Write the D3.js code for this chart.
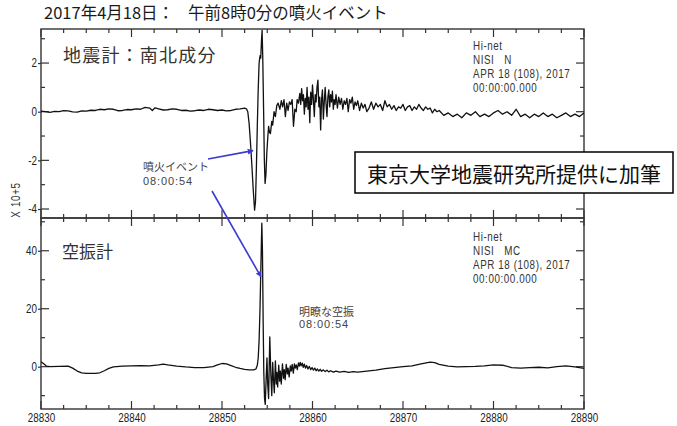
<!DOCTYPE html>
<html>
<head>
<meta charset="utf-8">
<script src="https://cdn.jsdelivr.net/npm/d3@7"></script>
<style>
  html, body { margin: 0; padding: 0; background: #fff; }
  svg { display: block; }
</style>
</head>
<body>
<svg id="chart" width="677" height="426"></svg>
<script>
// Time axis (seconds of day) and tick layout
const timeDomain = [28830, 28890];
const timeMajorTicks = [28830, 28840, 28850, 28860, 28870, 28880, 28890];
const timeMinorTicks = [28832.5, 28835, 28837.5, 28842.5, 28845, 28847.5, 28852.5, 28855, 28857.5,
  28862.5, 28865, 28867.5, 28872.5, 28875, 28877.5, 28882.5, 28885, 28887.5];

// Seismometer (N-S component, x 10^5)
const seisDomain = [-4.37, 3.4];
const seisMajorTicks = [-4, -2, 0, 2];
const seisMinorTicks = [-3, -1, 1, 3];

// Infrasound (microbarometer)
const infraDomain = [-14.6, 51.3];
const infraMajorTicks = [0, 20, 40];
const infraMinorTicks = [-10, 10, 30, 50];

// Seismometer trace: [time, value]
const seisBefore = [
  [28830,0.02],[28830.5,0.0],[28831,-0.03],[28831.5,0.01],[28832,0.0],[28832.5,0.04],[28833,0.03],
  [28833.5,-0.01],[28834,-0.02],[28834.5,0.03],[28835,0.02],[28835.5,0.06],[28836,0.05],[28836.5,0.1],
  [28837,0.08],[28837.5,0.12],[28838,0.1],[28838.5,0.04],[28839,0.05],[28839.5,0.09],[28840,0.08],
  [28840.5,0.12],[28841,0.1],[28841.5,0.18],[28842,0.15],[28842.3,0.05],[28842.6,0.16],[28843,0.12],
  [28843.5,0.07],[28844,0.08],[28844.5,0.12],[28845,0.1],[28845.5,0.05],[28846,0.06],[28846.5,0.02],
  [28847,0.04],[28847.5,0.07],[28848,0.05],[28848.5,0.1],[28849,0.08],[28849.5,0.05],[28850,0.07],
  [28850.5,0.03],[28851,0.05],[28851.5,0.1],[28852,0.12],[28852.5,0.15]
];
const seisEvent = [
  [28852.7,0.12],[28852.85,0.0],[28853.0,-0.5],[28853.15,-1.3],[28853.3,-2.2],[28853.45,-3.2],
  [28853.6,-4.05],[28853.7,-3.7],[28853.8,-2.3],[28853.9,-0.6],[28854.0,0.9],[28854.1,2.0],
  [28854.2,2.3],[28854.28,2.2],[28854.36,2.9],[28854.43,3.35],[28854.5,2.3],[28854.6,0.0],
  [28854.68,-2.0],[28854.76,-2.95],[28854.85,-2.6],[28854.95,-1.7],[28855.05,-1.1],[28855.15,-0.6],
  [28855.25,-0.85],[28855.35,-0.9],[28855.5,-0.4],[28855.6,-0.55],[28855.75,0.0],[28855.9,-0.2],
  [28856.05,0.25],[28856.2,0.35],[28856.4,0.1],[28856.55,0.45],[28856.7,0.2],[28856.85,0.5],
  [28857.0,-0.2],[28857.15,0.35],[28857.3,0.05],[28857.45,0.4],[28857.6,0.3],[28857.75,0.5],
  [28857.9,-0.6],[28858.05,0.1],[28858.2,0.0],[28858.3,0.5],[28858.45,0.35],[28858.6,0.75],
  [28858.7,0.3],[28858.8,0.95],[28858.9,0.45],[28859.0,0.7],[28859.1,-0.1],[28859.2,0.55],
  [28859.3,0.2],[28859.4,1.0],[28859.5,0.1],[28859.6,0.6],[28859.7,-0.45],[28859.8,0.8],
  [28859.9,0.3],[28860.0,1.1],[28860.1,0.5],[28860.2,-0.2],[28860.3,0.7],[28860.4,0.4],
  [28860.5,1.0],[28860.6,1.3],[28860.7,0.2],[28860.8,0.6],[28860.9,-0.75],[28861.0,0.5],
  [28861.1,0.9],[28861.2,-0.3],[28861.3,0.4],[28861.4,1.0],[28861.5,0.3],[28861.6,-0.2],
  [28861.7,0.6],[28861.8,0.9],[28861.9,0.2],[28862.0,0.7],[28862.1,0.4],[28862.2,0.85],
  [28862.3,0.1],[28862.4,0.5],[28862.5,0.3],[28862.6,0.7],[28862.75,0.15],[28862.9,0.6],
  [28863.05,0.3],[28863.2,0.55],[28863.35,0.1],[28863.5,0.45],[28863.65,0.3],[28863.8,0.55],
  [28863.95,0.0],[28864.1,0.5],[28864.25,0.35],[28864.4,0.6],[28864.55,0.1],[28864.7,0.4],
  [28864.85,0.25],[28865.0,0.45],[28865.2,0.05],[28865.4,0.35],[28865.6,0.15],[28865.8,0.3],
  [28866.0,0.0]
];
const seisCoda = [
  [28866.25,0.15],[28866.5,0.4],[28866.75,0.1],[28867,0.35],[28867.25,0.2],[28867.5,0.3],
  [28867.75,0.05],[28868,0.45],[28868.25,0.2],[28868.5,0.3],[28868.75,0.1],[28869,0.25],
  [28869.25,0.05],[28869.5,0.2],[28869.75,0.15],[28870,0.3],[28870.25,0.05],[28870.5,0.2],
  [28870.75,0.25],[28871,0.05],[28871.25,0.2],[28871.5,0.1],[28871.75,0.3],[28872,0.15],
  [28872.25,0.05],[28872.5,0.2],[28872.75,0.1],[28873,0.15],[28873.25,-0.05],[28873.5,0.1],
  [28873.75,0.0],[28874,0.05],[28874.5,-0.15],[28875,-0.05],[28875.5,-0.2],[28876,-0.1],
  [28876.5,-0.25],[28877,-0.05],[28877.5,-0.15],[28878,0.0],[28878.5,-0.2],[28879,-0.1],
  [28879.5,-0.2],[28880,-0.05],[28880.5,0.05],[28881,-0.1],[28881.5,0.0],[28882,-0.15],
  [28882.5,0.1],[28883,-0.2],[28883.5,-0.1],[28884,-0.25],[28884.5,-0.1],[28885,-0.2],
  [28885.5,-0.05],[28886,-0.2],[28886.5,-0.1],[28887,-0.25],[28887.5,-0.15],[28888,-0.05],
  [28888.5,-0.2],[28889,-0.1],[28889.5,-0.2],[28890,-0.05]
];

// Infrasound trace: [time, value]
const infraBefore = [
  [28830,1.7],[28830.3,1.0],[28830.6,0.2],[28831,0.0],[28832,0.1],[28833,0.2],[28833.5,-0.5],
  [28834,-1.5],[28834.5,-2.1],[28835,-2.3],[28836,-2.3],[28836.5,-2.1],[28837,-1.4],[28837.5,-0.6],
  [28838,-0.1],[28839,0.2],[28840,0.3],[28841,0.4],[28842,0.3],[28843,0.6],[28843.5,0.9],
  [28844,0.6],[28845,0.2],[28846,-0.1],[28847,-0.3],[28848,-0.3],[28849,0.0],[28849.5,0.6],
  [28850,1.1],[28850.5,1.0],[28851,0.4],[28851.5,-0.2],[28852,-0.6],[28852.5,-0.9],[28853,-1.1]
];
const infraEvent = [
  [28853.5,-1.1],[28853.75,-0.8],[28853.9,0.5],[28854.0,3],[28854.1,9],[28854.2,20],[28854.3,35],
  [28854.4,49.5],[28854.47,40],[28854.55,15],[28854.62,-2],[28854.7,-11],[28854.78,-13],
  [28854.88,-4],[28854.97,3],[28855.05,-6],[28855.15,-11],[28855.28,10.3],[28855.4,-3],
  [28855.5,-10],[28855.6,1.5],[28855.68,-4],[28855.78,-9],[28855.9,2],[28856.0,-6],[28856.07,-2],
  [28856.15,-7],[28856.27,0.5],[28856.37,-5],[28856.45,-1.5],[28856.55,-6],[28856.68,1],
  [28856.8,-4],[28856.88,-1],[28856.98,-4.5],[28857.1,0.8],[28857.22,-2.5],[28857.3,-0.5],
  [28857.42,-3.5],[28857.55,0.3],[28857.65,-1.5],[28857.75,0.8],[28857.88,-2.2],[28858.0,1.0],
  [28858.1,-0.5],[28858.2,0.6],[28858.32,-1.0],[28858.45,1.3],[28858.55,0.2],[28858.65,1.5],
  [28858.75,0.3],[28858.87,1.2],[28858.98,-0.2],[28859.1,0.9],[28859.22,-0.5],[28859.35,0.4],
  [28859.5,-0.8],[28859.65,0.1],[28859.8,-1.0],[28859.95,-0.3],[28860.1,-1.2],[28860.25,-0.5],
  [28860.4,-1.4],[28860.55,-0.8],[28860.7,-1.5],[28860.85,-0.9],[28861.0,-1.6],[28861.2,-1.1],
  [28861.4,-1.7],[28861.6,-1.2],[28861.8,-1.8],[28862,-1.4],[28862.3,-1.9],[28862.6,-1.5],
  [28863,-1.9],[28863.5,-1.6],[28864,-2.0],[28864.5,-1.7],[28865,-1.9]
];
const infraAfter = [
  [28866,-1.5],[28867,-1.2],[28868,-0.7],[28869,-0.3],[28870,0.0],[28871,0.3],[28872,1.0],
  [28873,1.6],[28873.5,1.4],[28874,0.8],[28875,0.2],[28876,-0.1],[28877,0.0],[28878,0.1],
  [28879,0.3],[28880,0.6],[28881,0.5],[28882,-0.3],[28883,-0.5],[28884,-0.3],[28885,-0.2],
  [28886,-0.4],[28887,0.0],[28888,0.3],[28889,-0.1],[28890,-0.6]
];

const seisTrace = seisBefore.concat(seisEvent, seisCoda);
const infraTrace = infraBefore.concat(infraEvent, infraAfter);

// Text content
const titleDate = "2017年4月18日：";
const titleEvent = "午前8時0分の噴火イベント";
const seisLabel = "地震計：南北成分";
const infraLabel = "空振計";
const seisStation = ["Hi-net", "NISI   N", "APR 18 (108), 2017", "00:00:00.000"];
const infraStation = ["Hi-net", "NISI   MC", "APR 18 (108), 2017", "00:00:00.000"];
const eruptionNote = ["噴火イベント", "08:00:54"];
const airwaveNote = ["明瞭な空振", "08:00:54"];
const creditNote = "東京大学地震研究所提供に加筆";
const unitLabel = "X 10+5";

// Layout
const left = 41, right = 584;
const topY = 29, midY = 218, bottomY = 409;
const squeeze = 0.82;   // horizontal compression giving a narrow face for the Latin labels

const svg = d3.select("#chart");
const cjk = "'Noto Sans CJK JP', 'Noto Sans', sans-serif";
const latin = "'Liberation Sans', Arial, sans-serif";

const x = d3.scaleLinear().domain(timeDomain).range([left, right]);
const ySeis = d3.scaleLinear().domain(seisDomain).range([midY, topY]);
const yInfra = d3.scaleLinear().domain(infraDomain).range([bottomY, midY]);

const defs = svg.append("defs");
defs.append("marker")
  .attr("id", "arrowHead")
  .attr("viewBox", "0 0 10 10")
  .attr("refX", 9).attr("refY", 5)
  .attr("markerWidth", 6).attr("markerHeight", 6)
  .attr("markerUnits", "userSpaceOnUse")
  .attr("orient", "auto")
  .append("path").attr("d", "M0,0L10,5L0,10z").attr("fill", "#3a3ad0");

defs.append("clipPath").attr("id", "clipSeis")
  .append("rect").attr("x", left).attr("y", topY).attr("width", right - left).attr("height", midY - topY);
defs.append("clipPath").attr("id", "clipInfra")
  .append("rect").attr("x", left).attr("y", midY).attr("width", right - left).attr("height", bottomY - midY);

// Title
const title = svg.append("text")
  .attr("y", 19)
  .attr("font-family", cjk).attr("font-size", 16.5).attr("fill", "#1a1a1a");
title.append("tspan").attr("x", 44).text(titleDate);
title.append("tspan").attr("x", 188).text(titleEvent);

// Panels
function drawPanel(y, yMajor, yMinor, y0, y1) {
  const g = svg.append("g");
  const tickColor = "#333";
  const axis = d3.axisLeft(y).tickValues(yMajor).tickSize(3).tickPadding(2).tickFormat(d3.format("d"));
  const ga = g.append("g").attr("transform", `translate(${left},0)`).call(axis);
  ga.attr("font-family", latin).attr("font-size", 12);
  ga.select(".domain").remove();
  ga.selectAll(".tick line").attr("stroke", tickColor).attr("stroke-width", 1.2);
  ga.selectAll(".tick text")
    .attr("fill", "#222")
    .attr("x", -4 / squeeze)
    .attr("transform", `scale(${squeeze},1)`)
    .text(d => d < 0 ? "-" + Math.abs(d) : d);

  const yTicks = yMajor.map(v => ({ v, len: 8 })).concat(yMinor.map(v => ({ v, len: 4 })))
    .filter(d => y(d.v) >= y1 - 0.5 && y(d.v) <= y0 + 0.5);
  g.selectAll(".yl").data(yTicks).join("line")
    .attr("x1", left).attr("x2", d => left + d.len)
    .attr("y1", d => y(d.v)).attr("y2", d => y(d.v))
    .attr("stroke", tickColor).attr("stroke-width", 1.2);
  g.selectAll(".yr").data(yTicks).join("line")
    .attr("x1", right).attr("x2", d => right - d.len)
    .attr("y1", d => y(d.v)).attr("y2", d => y(d.v))
    .attr("stroke", tickColor).attr("stroke-width", 1.2);

  const xTicks = timeMajorTicks.map(v => ({ v, len: 8 })).concat(timeMinorTicks.map(v => ({ v, len: 4 })));
  g.selectAll(".xt").data(xTicks).join("line")
    .attr("x1", d => x(d.v)).attr("x2", d => x(d.v))
    .attr("y1", y1).attr("y2", d => y1 + d.len)
    .attr("stroke", tickColor).attr("stroke-width", 1.2);
  g.selectAll(".xb").data(xTicks).join("line")
    .attr("x1", d => x(d.v)).attr("x2", d => x(d.v))
    .attr("y1", y0).attr("y2", d => y0 - d.len)
    .attr("stroke", tickColor).attr("stroke-width", 1.2);

  g.append("rect")
    .attr("x", left).attr("y", y1).attr("width", right - left).attr("height", y0 - y1)
    .attr("fill", "none").attr("stroke", "#333").attr("stroke-width", 1.4);
}
drawPanel(ySeis, seisMajorTicks, seisMinorTicks, midY, topY);
drawPanel(yInfra, infraMajorTicks, infraMinorTicks, bottomY, midY);

// Time axis labels
const xAxis = d3.axisBottom(x).tickValues(timeMajorTicks).tickSize(0).tickPadding(4).tickFormat(d3.format("d"));
const gx = svg.append("g").attr("transform", `translate(0,${bottomY})`).call(xAxis);
gx.attr("font-family", latin).attr("font-size", 12);
gx.select(".domain").remove();
gx.selectAll(".tick text").attr("fill", "#222").attr("transform", `scale(${squeeze},1)`);

// Unit label
svg.append("text")
  .attr("transform", `translate(20,200) rotate(-90) scale(${squeeze},1)`)
  .attr("text-anchor", "middle")
  .attr("font-family", latin).attr("font-size", 12).attr("letter-spacing", 0.8).attr("fill", "#333")
  .text(unitLabel);

// Traces
const line = yScale => d3.line().x(d => x(d[0])).y(d => yScale(d[1])).curve(d3.curveLinear);
svg.append("path").datum(seisTrace)
  .attr("clip-path", "url(#clipSeis)")
  .attr("d", line(ySeis))
  .attr("fill", "none").attr("stroke", "#111").attr("stroke-width", 1.3).attr("stroke-linejoin", "round");
svg.append("path").datum(infraTrace)
  .attr("clip-path", "url(#clipInfra)")
  .attr("d", line(yInfra))
  .attr("fill", "none").attr("stroke", "#111").attr("stroke-width", 1.3).attr("stroke-linejoin", "round");

// Panel labels
svg.append("text").attr("x", 63).attr("y", 62)
  .attr("font-family", cjk).attr("font-size", 18).attr("letter-spacing", 1.2).attr("fill", "#333")
  .text(seisLabel);
svg.append("text").attr("x", 62).attr("y", 258)
  .attr("font-family", cjk).attr("font-size", 17).attr("fill", "#333")
  .text(infraLabel);

// Station info blocks
function stationBlock(lines, yFirst) {
  const t = svg.append("text")
    .attr("transform", `translate(473,0) scale(${squeeze},1)`)
    .attr("font-family", latin).attr("font-size", 12).attr("letter-spacing", 0.7)
    .attr("fill", "#333").style("white-space", "pre");
  lines.forEach((s, i) => {
    t.append("tspan").attr("x", 0).attr("y", yFirst + i * 13.9).text(s);
  });
}
stationBlock(seisStation, 50);
stationBlock(infraStation, 241);

// Annotations
function note(lines, x0, yFirst, gap) {
  const t = svg.append("text").attr("fill", "#444");
  t.append("tspan").attr("x", x0).attr("y", yFirst)
    .attr("font-family", cjk).attr("font-size", 11).text(lines[0]);
  t.append("tspan").attr("x", x0).attr("y", yFirst + gap)
    .attr("font-family", latin).attr("font-size", 11)
    .attr("letter-spacing", 0.9).text(lines[1]);
}
note(eruptionNote, 143, 171, 14);
note(airwaveNote, 299, 316, 12);

// Arrows from the eruption note to the onset in each trace
svg.append("line")
  .attr("x1", 208).attr("y1", 159)
  .attr("x2", x(28853.43)).attr("y2", ySeis(-1.6))
  .attr("stroke", "#3a3ad0").attr("stroke-width", 1.6)
  .attr("marker-end", "url(#arrowHead)");
svg.append("line")
  .attr("x1", 212).attr("y1", 191)
  .attr("x2", x(28854.3)).attr("y2", yInfra(31))
  .attr("stroke", "#3a3ad0").attr("stroke-width", 1.6)
  .attr("marker-end", "url(#arrowHead)");

// Credit box
const box = svg.append("g");
box.append("rect").attr("x", 355).attr("y", 152).attr("width", 318).attr("height", 41)
  .attr("fill", "#fff").attr("stroke", "#000").attr("stroke-width", 1.5);
box.append("text").attr("x", 514).attr("y", 173)
  .attr("text-anchor", "middle").attr("dominant-baseline", "central")
  .attr("font-family", cjk).attr("font-size", 21).attr("fill", "#111")
  .text(creditNote);
</script>
</body>
</html>
